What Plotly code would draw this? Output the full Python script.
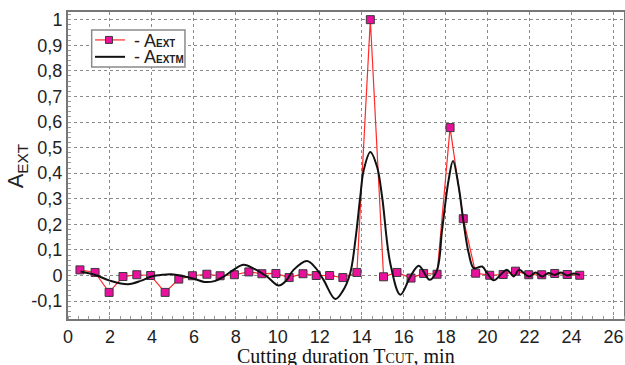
import plotly.graph_objects as go

# A_EXT measured points
aext_x = [0.57, 1.29, 1.96, 2.62, 3.28, 3.94, 4.63, 5.28, 5.93, 6.62, 7.25, 7.93, 8.62, 9.24,
          9.91, 10.54, 11.2, 11.83, 12.47, 13.1, 13.77, 14.41, 15.04, 15.68, 16.35, 16.95,
          17.59, 18.21, 18.84, 19.43, 20.1, 20.74, 21.33, 21.96, 22.58, 23.2, 23.79, 24.39]
aext_y = [0.022, 0.012, -0.066, -0.004, 0.003, 0.0, -0.066, -0.014, -0.001, 0.005, -0.001,
          0.003, 0.014, 0.007, 0.008, -0.008, 0.007, 0.0, 0.0, -0.008, 0.012, 1.0, -0.005,
          0.012, -0.01, 0.008, 0.005, 0.578, 0.222, 0.009, 0.001, 0.004, 0.017, 0.003,
          0.003, 0.008, 0.004, 0.001]

# A_EXTM model curve
aextm_x = [0.6, 1.27, 2.0, 2.86, 3.5, 3.98, 4.5, 4.93, 5.5, 6.04, 6.5, 6.93, 7.4, 7.89, 8.37,
           8.9, 9.48, 10.04, 10.4, 10.75, 11.39, 11.8, 12.18, 12.74, 13.1, 13.45, 13.7, 13.93,
           14.09, 14.41, 14.73, 14.97, 15.36, 15.84, 16.32, 16.72, 17.24, 17.59, 17.83, 18.14,
           18.35, 18.62, 18.86, 19.1, 19.34, 19.74, 19.98, 20.29, 20.69, 20.93, 21.25, 21.49,
           21.97, 22.29, 22.6, 22.9, 23.2, 23.5, 23.8, 24.1, 24.4]
aextm_y = [0.016, 0.003, -0.02, -0.034, -0.02, -0.004, 0.003, 0.005, -0.003, -0.014, -0.025,
           -0.023, -0.005, 0.022, 0.042, 0.025, -0.004, -0.039, -0.02, 0.022, 0.057, 0.03,
           -0.017, -0.092, -0.06, 0.009, 0.14, 0.308, 0.41, 0.483, 0.425, 0.308, 0.048,
           -0.075, -0.004, 0.038, -0.017, 0.022, 0.178, 0.373, 0.448, 0.347, 0.204, 0.087,
           0.029, 0.035, 0.009, -0.019, 0.009, 0.022, -0.004, 0.022, -0.004, 0.012, -0.004,
           0.01, 0.002, 0.012, 0.0, 0.008, 0.002]

x_ticks = [0, 2, 4, 6, 8, 10, 12, 14, 16, 18, 20, 22, 24, 26]
y_ticks = [-0.1, 0, 0.1, 0.2, 0.3, 0.4, 0.5, 0.6, 0.7, 0.8, 0.9, 1]
y_ticktext = ["-0,1", "0", "0,1", "0,2", "0,3", "0,4", "0,5", "0,6", "0,7", "0,8", "0,9", "1"]

SMALL = "<span style='font-size:10px;font-weight:bold'>{}</span>"
name_aext = "- A" + SMALL.format("EXT")
name_aextm = "- A" + SMALL.format("EXTM")

SANS = "Liberation Sans, Arial"
RED = "#ff2a2a"
MAG = "#e8109c"

fig = go.Figure()
fig.add_trace(go.Scatter(
    x=aext_x, y=aext_y, mode="lines+markers", name=name_aext, showlegend=False,
    line=dict(color=RED, width=1.2),
    marker=dict(symbol="square", size=8, color=MAG, line=dict(color="#3a3a3a", width=1)),
))
fig.add_trace(go.Scatter(
    x=aextm_x, y=aextm_y, mode="lines", name=name_aextm, showlegend=False,
    line=dict(color="#111111", width=2, shape="spline", smoothing=1.0),
))

# compact legend drawn in paper coordinates of the plot area
shapes = [
    dict(type="rect", xref="paper", yref="paper", x0=0.0426, x1=0.2104, y0=0.821, y1=0.941,
         line=dict(color="#8a8a8a", width=1.5), fillcolor="white", layer="above"),
    dict(type="line", xref="paper", yref="paper", x0=0.0486, x1=0.1025, y0=0.909, y1=0.909,
         line=dict(color=RED, width=1.2), layer="above"),
    dict(type="rect", xref="paper", yref="paper", xsizemode="pixel", ysizemode="pixel",
         xanchor=0.0737, yanchor=0.909, x0=-3.5, x1=3.5, y0=-3.5, y1=3.5,
         line=dict(color="#3a3a3a", width=1), fillcolor=MAG, layer="above"),
    dict(type="line", xref="paper", yref="paper", x0=0.0486, x1=0.1025, y0=0.854, y1=0.854,
         line=dict(color="#111111", width=2), layer="above"),
]
annotations = [
    dict(text=name_aext, xref="paper", yref="paper", x=0.1145, y=0.905,
         xanchor="left", yanchor="middle", showarrow=False, height=16, valign="middle",
         font=dict(family=SANS, size=18, color="#222")),
    dict(text=name_aextm, xref="paper", yref="paper", x=0.1145, y=0.854,
         xanchor="left", yanchor="middle", showarrow=False, height=16, valign="middle",
         font=dict(family=SANS, size=18, color="#222")),
    dict(text="Cutting duration T<span style='font-size:14px'>CUT</span>, min",
         xref="paper", yref="paper", x=0.5, y=-0.078, xanchor="center", yanchor="top",
         showarrow=False,
         font=dict(family="Liberation Serif, Times New Roman", size=20, color="#111")),
    dict(text="A<sub>EXT</sub>", textangle=-90,
         xref="paper", yref="paper", x=-0.092, y=0.5, xanchor="center", yanchor="middle",
         showarrow=False,
         font=dict(family=SANS, size=22, color="#222")),
]

fig.update_layout(
    width=625, height=365,
    margin=dict(l=68, r=1, t=12, b=46, autoexpand=False),
    paper_bgcolor="white", plot_bgcolor="white",
    showlegend=False,
    font=dict(family=SANS, color="#222"),
    shapes=shapes, annotations=annotations,
)
fig.update_xaxes(
    range=[0, 26.5], tickvals=x_ticks, ticktext=[str(v) for v in x_ticks],
    tickfont=dict(size=18, family=SANS, color="#222"), automargin=False,
    showgrid=True, gridcolor="#8a8a8a", griddash="dot", gridwidth=1,
    showline=True, linecolor="#777777", linewidth=2, mirror=True,
    ticks="", zeroline=False,
    minor=dict(ticks="inside", ticklen=3, dtick=0.5, tickcolor="#999", showgrid=False),
)
fig.update_yaxes(
    range=[-0.17, 1.03], tickvals=y_ticks, ticktext=y_ticktext,
    tickfont=dict(size=18, family=SANS, color="#222"), automargin=False,
    showgrid=True, gridcolor="#8a8a8a", griddash="dot", gridwidth=1,
    showline=True, linecolor="#777777", linewidth=2, mirror=True,
    ticks="", zeroline=False,
    minor=dict(ticks="inside", ticklen=3, dtick=0.02, tickcolor="#999", showgrid=False),
)

# remove the page's default body margin / scrollbars so the figure fills the window exactly
fig.write_html("out.html", config={"displayModeBar": False},
               post_script="document.body.style.margin='0';document.body.style.overflow='hidden';")
